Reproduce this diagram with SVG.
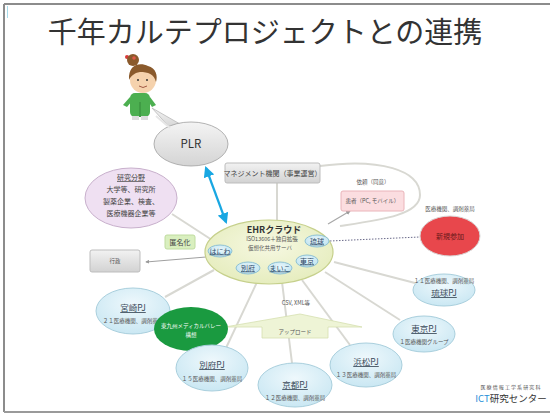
<svg xmlns="http://www.w3.org/2000/svg" width="550" height="414" viewBox="0 0 550 414">
  <defs>
    <linearGradient id="gBubble" x1="0" y1="0" x2="0" y2="1">
      <stop offset="0" stop-color="#f4f4f4"/>
      <stop offset="1" stop-color="#d4d4d4"/>
    </linearGradient>
    <linearGradient id="gBox" x1="0" y1="0" x2="0" y2="1">
      <stop offset="0" stop-color="#f2f2f2"/>
      <stop offset="1" stop-color="#d2d2d2"/>
    </linearGradient>
    <radialGradient id="gPj" cx="0.5" cy="0.35" r="0.7">
      <stop offset="0" stop-color="#eef8fc"/>
      <stop offset="1" stop-color="#c7e6f2"/>
    </radialGradient>
    <radialGradient id="gEhr" cx="0.5" cy="0.4" r="0.7">
      <stop offset="0" stop-color="#f6f8e2"/>
      <stop offset="1" stop-color="#e3ebb8"/>
    </radialGradient>
    <radialGradient id="gSite" cx="0.5" cy="0.4" r="0.7">
      <stop offset="0" stop-color="#eaf7fb"/>
      <stop offset="1" stop-color="#b9e0ee"/>
    </radialGradient>
    <marker id="blueHead" viewBox="0 0 10 10" refX="8" refY="5" markerWidth="5" markerHeight="5" orient="auto-start-reverse">
      <path d="M0,0 L10,5 L0,10 z" fill="#19a7e2"/>
    </marker>
    <marker id="grayHead" viewBox="0 0 10 10" refX="8" refY="5" markerWidth="4" markerHeight="4" orient="auto">
      <path d="M0,0 L10,5 L0,10 z" fill="#9a9a9a"/>
    </marker>
  </defs>
  <style>
    text { font-family: "Noto Sans CJK JP", "Noto Sans", sans-serif; text-anchor: middle; }
    .title { font-size: 29px; fill: #333333; }
    .tiny { font-size: 5.5px; fill: #555555; }
    .small { font-size: 7px; fill: #444444; }
    .pjName { font-size: 8.5px; fill: #3a4a5a; text-decoration: underline; }
    .link { stroke: #d8d8d2; stroke-width: 2; fill: none; }
    .pj { fill: url(#gPj); stroke: #a9cfdd; stroke-width: 1; }
    .site { fill: url(#gSite); stroke: #8fc2d4; stroke-width: 1; }
    .siteText { font-size: 7px; fill: #2d4a66; text-decoration: underline; }
  </style>

  <!-- slide frame -->
  <rect x="0" y="0" width="550" height="414" fill="#ffffff"/>
  <path d="M4,4 H550 M4,4 V412" stroke="#8c8c8c" stroke-width="2" fill="none"/>
  <path d="M4,412 H550" stroke="#9a9a9a" stroke-width="2"/>
  <path d="M7.5,6 V18" stroke="#a8dceb" stroke-width="1"/>

  <text class="title" x="265" y="43">千年カルテプロジェクトとの連携</text>

  <!-- connectors -->
  <g id="connectors">
    <line class="link" x1="277" y1="183" x2="277" y2="220"/>
    <path class="link" d="M320,166 C380,158 420,170 420,195 C420,215 380,220 340,226"/>
    <line x1="328" y1="224" x2="350" y2="211" stroke="#a8a8a8" stroke-width="1.2" marker-end="url(#grayHead)"/>
    <line class="link" x1="172" y1="214" x2="212" y2="240"/>
    <line x1="206" y1="257" x2="146" y2="262" stroke="#a0a0a0" stroke-width="1" marker-end="url(#grayHead)"/>
    <line class="link" x1="214" y1="270" x2="165" y2="297"/>
    <line class="link" x1="258" y1="280" x2="226" y2="348"/>
    <line class="link" x1="282" y1="282" x2="292" y2="363"/>
    <line class="link" x1="302" y1="280" x2="350" y2="345"/>
    <line class="link" x1="325" y1="272" x2="400" y2="320"/>
    <line class="link" x1="334" y1="262" x2="415" y2="283"/>
    <line x1="330" y1="241" x2="420" y2="237" stroke="#6a6a8a" stroke-width="1" stroke-dasharray="1.5,1.5"/>
    <line x1="226" y1="222" x2="206" y2="168" stroke="#19a7e2" stroke-width="2.2" marker-start="url(#blueHead)" marker-end="url(#blueHead)"/>
  </g>

  <!-- person -->
  <g id="person">
    <circle cx="127" cy="57" r="2" fill="#d83a3a"/>
    <circle cx="133" cy="60" r="6" fill="#8a5a2c"/>
    <circle cx="134" cy="58" r="1.8" fill="#e05a4a"/>
    <rect x="130" y="93" width="20" height="24" rx="5" fill="#4caf50"/>
    <path d="M130,97 L123,105 L127,107 L132,101 Z M150,97 L156,105 L152,107 L148,101 Z" fill="#4caf50"/>
    <line x1="140" y1="102" x2="140" y2="117" stroke="#2e7d32" stroke-width="0.8"/>
    <rect x="132" y="116" width="7" height="4" fill="#dddddd"/>
    <rect x="141" y="116" width="7" height="4" fill="#dddddd"/>
    <ellipse cx="143" cy="80" rx="13" ry="13" fill="#f5d2ad"/>
    <path d="M129,80 C128,64 140,62 148,66 C156,68 158,76 156,82 C154,74 148,72 140,72 C134,73 131,76 129,80 Z" fill="#8a5a2c"/>
    <circle cx="138" cy="80" r="1" fill="#333"/>
    <circle cx="147" cy="80" r="1" fill="#333"/>
    <path d="M139,86 Q143,89 147,86" stroke="#8a3a2a" stroke-width="0.8" fill="none"/>
  </g>

  <!-- PLR bubble -->
  <g id="plr">
    <path d="M152,108 L170,128 L180,124 Z" fill="url(#gBubble)" stroke="#b8b8b8" stroke-width="0.8"/>
    <ellipse cx="191" cy="144" rx="37" ry="22" fill="url(#gBubble)" stroke="#a0a0a0" stroke-width="0.8"/>
    <path d="M156,116 L170,128" stroke="#e6e6e6" stroke-width="2"/>
    <text x="191" y="148" font-size="11.5" fill="#333">PLR</text>
  </g>

  <!-- research field -->
  <g id="research">
    <ellipse cx="131" cy="198" rx="46" ry="30" fill="#efe0f2" stroke="#c8b0cc" stroke-width="1"/>
    <text class="small" x="131" y="180" text-decoration="underline">研究分野</text>
    <text class="small" x="131" y="192">大学等、研究所</text>
    <text class="small" x="131" y="204">製薬企業、検査、</text>
    <text class="small" x="131" y="216">医療機器企業等</text>
  </g>

  <!-- management -->
  <g id="management">
    <rect x="225" y="163" width="95" height="20" rx="2" fill="url(#gBox)" stroke="#bdbdbd"/>
    <text class="small" x="272.5" y="176">マネジメント機関（事業運営）</text>
  </g>

  <!-- patient -->
  <g id="patient">
    <text class="tiny" x="373" y="184">依頼（同意）</text>
    <rect x="341" y="191" width="63" height="20" rx="2" fill="#fbdde0" stroke="#eab4ba"/>
    <text class="tiny" x="372.5" y="203">患者（PC, モバイル）</text>
  </g>

  <!-- new participants -->
  <g id="newJoin">
    <text class="tiny" x="450" y="211">医療機関、調剤薬局</text>
    <ellipse cx="450" cy="236" rx="30" ry="20" fill="#e8474c" stroke="#d9d9d9" stroke-width="1"/>
    <text x="450" y="239" font-size="7" fill="#6a1a1a">新規参加</text>
  </g>

  <!-- anonymization -->
  <g id="anon">
    <rect x="165" y="235" width="30" height="14" rx="2" fill="#d9efbf" stroke="#c0dca0"/>
    <text class="small" x="180" y="245">匿名化</text>
  </g>

  <!-- government -->
  <g id="gov">
    <rect x="90" y="250" width="50" height="22" rx="2" fill="url(#gBox)" stroke="#bdbdbd"/>
    <text class="tiny" x="115" y="263">行政</text>
  </g>

  <!-- EHR cloud -->
  <g id="ehr">
    <ellipse cx="269" cy="252" rx="64" ry="32" fill="url(#gEhr)" stroke="#c6d08c" stroke-width="1.2"/>
    <text x="274" y="233" font-size="9" font-weight="bold" fill="#333">EHRクラウド</text>
    <text class="tiny" x="272" y="241">ISO13606＋独自拡張</text>
    <text class="tiny" x="270" y="250">仮想化共用サーバ</text>
    <ellipse class="site" cx="220" cy="251" rx="12" ry="6"/>
    <text class="siteText" x="220" y="253.5">はにわ</text>
    <ellipse class="site" cx="248" cy="268" rx="12" ry="6"/>
    <text class="siteText" x="248" y="270.5">別府</text>
    <ellipse class="site" cx="280" cy="268" rx="12" ry="6"/>
    <text class="siteText" x="280" y="270.5">まいこ</text>
    <ellipse class="site" cx="307" cy="261" rx="11" ry="6"/>
    <text class="siteText" x="307" y="263.5">東京</text>
    <ellipse class="site" cx="317" cy="241" rx="12" ry="6"/>
    <text class="siteText" x="317" y="243.5">琉球</text>
  </g>

  <!-- upload -->
  <g id="upload">
    <text class="tiny" x="296" y="305">CSV, XML等</text>
    <path d="M225,327 L300,314 L362,327 L328,327 L328,338 L262,338 L262,327 Z" fill="#eef4d6" stroke="#d6e0b0" stroke-width="0.8"/>
    <text class="tiny" x="295" y="334">アップロード</text>
  </g>

  <!-- projects -->
  <g id="pjRyukyu">
    <ellipse class="pj" cx="444" cy="290" rx="31" ry="16"/>
    <text class="tiny" x="444" y="283">１１医療機関、調剤薬局</text>
    <text class="pjName" x="444" y="296">琉球PJ</text>
  </g>
  <g id="pjTokyo">
    <ellipse class="pj" cx="424" cy="334" rx="31" ry="18"/>
    <text class="pjName" x="424" y="332">東京PJ</text>
    <text class="tiny" x="424" y="344">１医療機関グループ</text>
  </g>
  <g id="pjHamamatsu">
    <ellipse class="pj" cx="366" cy="365" rx="36" ry="22"/>
    <text class="pjName" x="366" y="365">浜松PJ</text>
    <text class="tiny" x="366" y="377">１３医療機関、調剤薬局</text>
  </g>
  <g id="pjKyoto">
    <ellipse class="pj" cx="295" cy="385" rx="37" ry="22"/>
    <text class="pjName" x="295" y="388">京都PJ</text>
    <text class="tiny" x="295" y="400">１２医療機関、調剤薬局</text>
  </g>
  <g id="pjMiyazaki">
    <ellipse class="pj" cx="133" cy="311" rx="37" ry="23"/>
    <text class="pjName" x="133" y="311">宮崎PJ</text>
    <text class="tiny" x="133" y="323">２１医療機関、調剤薬局</text>
  </g>
  <g id="medicalValley">
    <ellipse cx="191" cy="329" rx="37" ry="22" fill="#1a9a40"/>
    <text x="191" y="328" font-size="5.5" fill="#ffffff">東九州メディカルバレー</text>
    <text x="191" y="337" font-size="5.5" fill="#ffffff">構想</text>
  </g>
  <g id="pjBeppu">
    <ellipse class="pj" cx="212" cy="368" rx="36" ry="23"/>
    <text class="pjName" x="212" y="368">別府PJ</text>
    <text class="tiny" x="212" y="381">１５医療機関、調剤薬局</text>
  </g>

  <!-- logo -->
  <g id="logo">
    <text x="511" y="389" font-size="5" fill="#555" letter-spacing="1.1">医療情報工学系研究科</text>
    <text x="511" y="402" font-size="9.5" fill="#333"><tspan fill="#1f8fd8">ICT</tspan>研究センター</text>
  </g>
</svg>
